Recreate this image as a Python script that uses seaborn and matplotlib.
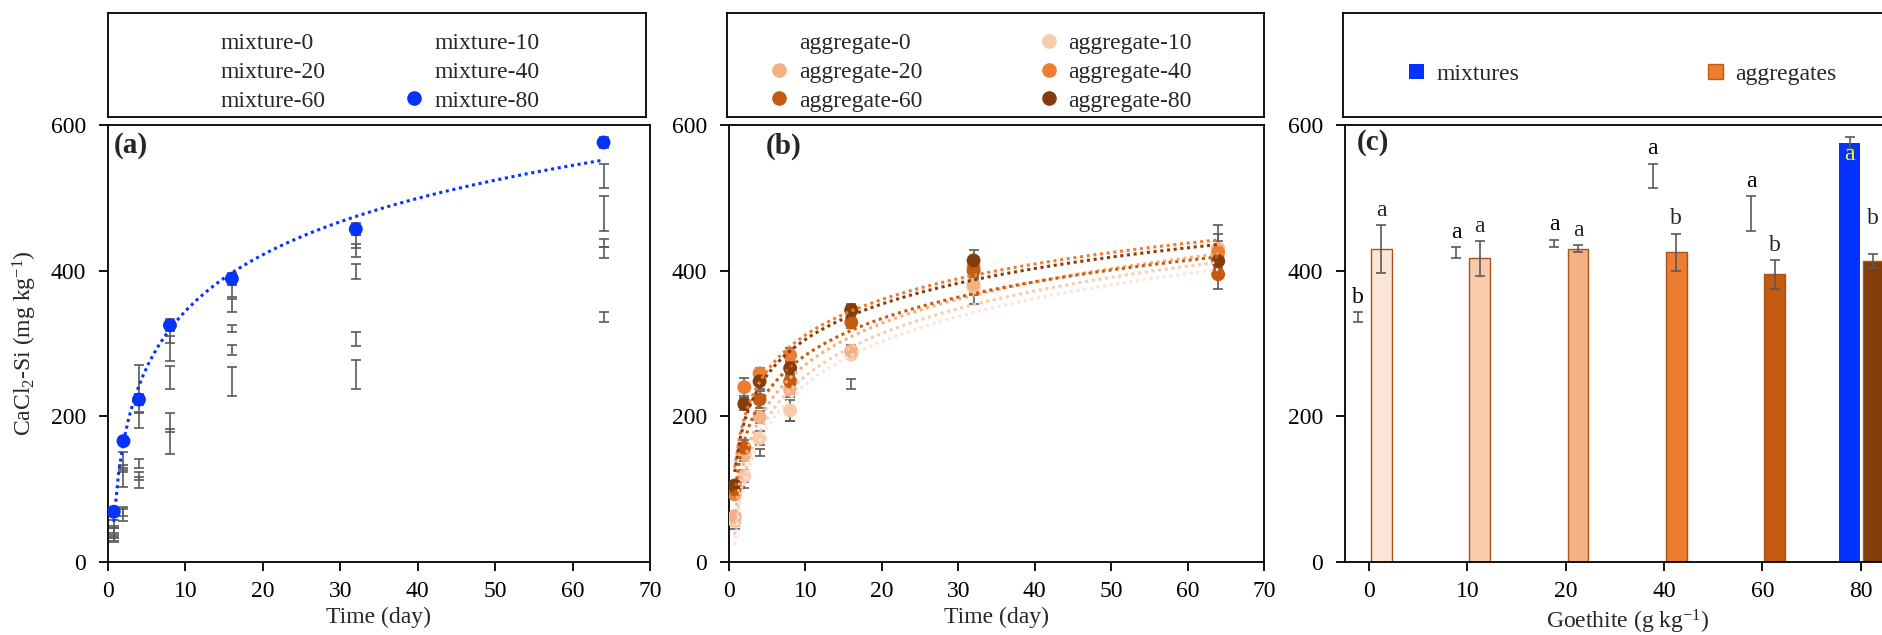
import numpy as np
import matplotlib.pyplot as plt
import matplotlib.lines as mlines
import matplotlib.patches as mpatches
import seaborn as sns

# --- DATA ---
DAYS = [0.75, 2, 4, 8, 16, 32, 64]

MIX_NAMES = ['mixture-0', 'mixture-10', 'mixture-20', 'mixture-40', 'mixture-60', 'mixture-80']
MIX_0 = [30, 66, 109, 165, 248, 257, 336]
MIX_10 = [33, 68, 118, 192, 291, 306, 425]
MIX_20 = [40, 115, 135, 253, 321, 399, 438]
MIX_40 = [45, 128, 195, 293, 352, 440, 530]
MIX_60 = [52, 140, 238, 316, 372, 428, 478]
MIX_80 = [69, 166, 223, 325, 389, 457, 576]
MIX_0_ERR = [3, 10, 8, 17, 20, 20, 7]
MIX_10_ERR = [4, 5, 6, 13, 7, 10, 8]
MIX_20_ERR = [6, 12, 6, 16, 5, 10, 5]
MIX_40_ERR = [5, 5, 11, 17, 9, 9, 17]
MIX_60_ERR = [6, 11, 33, 15, 8, 9, 24]
MIX_80_ERR = [4, 6, 8, 8, 8, 8, 8]

AGG_NAMES = ['aggregate-0', 'aggregate-10', 'aggregate-20', 'aggregate-40', 'aggregate-60', 'aggregate-80']
AGG_0 = [50, 110, 150, 201, 244, 362, 430]
AGG_10 = [56, 118, 170, 208, 285, 377, 417]
AGG_20 = [63, 147, 199, 236, 290, 381, 430]
AGG_40 = [93, 240, 259, 284, 345, 405, 425]
AGG_60 = [100, 157, 223, 248, 329, 400, 395]
AGG_80 = [105, 217, 248, 266, 346, 414, 413]
AGG_0_ERR = [5, 8, 5, 7, 7, 8, 33]
AGG_10_ERR = [6, 8, 10, 14, 6, 10, 24]
AGG_20_ERR = [5, 8, 8, 10, 8, 12, 5]
AGG_40_ERR = [5, 12, 8, 10, 8, 10, 25]
AGG_60_ERR = [5, 10, 12, 10, 8, 10, 20]
AGG_80_ERR = [6, 8, 10, 10, 8, 14, 10]

# panel (c): day-64 values
GOETHITE = ['0', '10', '20', '40', '60', '80']
BAR_MIX = [336, 425, 437, 530, 478, 575]
BAR_MIX_ERR = [7, 8, 5, 17, 24, 8]
BAR_AGG = [430, 417, 430, 425, 395, 413]
BAR_AGG_ERR = [33, 24, 5, 25, 20, 10]
MIX_LETTERS = ['b', 'a', 'a', 'a', 'a', 'a']
AGG_LETTERS = ['a', 'a', 'a', 'b', 'b', 'b']
MIX_LETTER_Y = [363, 452, 463, 568, 523, 559]
AGG_LETTER_Y = [483, 460, 455, 472, 434, 472]

# --- STYLE ---
BLUE = '#0433FF'
AGG_COLORS = ['#FBE5D6', '#F8CBAD', '#F4B183', '#ED7D31', '#C55A11', '#843C0C']
ERR_COLOR = '#5A5A5A'
FS = 17

sns.set_theme(style='ticks')
plt.rcParams['font.family'] = ['Liberation Serif', 'DejaVu Serif']
plt.rcParams['mathtext.fontset'] = 'custom'
plt.rcParams['mathtext.rm'] = 'Liberation Serif'
plt.rcParams['mathtext.it'] = 'Liberation Serif:italic'
plt.rcParams['mathtext.bf'] = 'Liberation Serif:bold'

W, H = 1883, 635
fig = plt.figure(figsize=(W / 100, H / 100), dpi=100)


def px_axes(left, top, width, height):
    return fig.add_axes([left / W, (H - top - height) / H, width / W, height / H])


def style_axes(ax):
    for sp in ax.spines.values():
        sp.set_visible(True)
        sp.set_color('black')
        sp.set_linewidth(1.3)
    ax.tick_params(direction='out', length=6.5, width=1.3, labelsize=FS, colors='black')
    ax.tick_params(axis='x', pad=7)
    ax.tick_params(axis='y', pad=9.5)
    ax.set_ylim(0, 600)
    ax.set_yticks([0, 200, 400, 600])


def legend_box(left, width):
    lax = px_axes(left, 13, width, 104)
    lax.set_xticks([])
    lax.set_yticks([])
    for sp in lax.spines.values():
        sp.set_visible(True)
        sp.set_color('black')
        sp.set_linewidth(1.3)
    return lax


def errbars(ax, x, y, e):
    ax.errorbar(x, y, yerr=e, fmt='none', ecolor=ERR_COLOR, elinewidth=1.2,
                capsize=3.5, capthick=1.2, zorder=2)


def fit_line(ax, y, color):
    sns.regplot(x=np.array(DAYS), y=np.array(y), logx=True, scatter=False, ci=None, ax=ax,
                color=color, line_kws=dict(ls=(0, (1, 1.2)), lw=2.2, zorder=4))


# ---------------- (a) mixtures over time ----------------
ax_a = px_axes(108, 125, 542, 437)
mix_series = [MIX_0, MIX_10, MIX_20, MIX_40, MIX_60]
mix_errs = [MIX_0_ERR, MIX_10_ERR, MIX_20_ERR, MIX_40_ERR, MIX_60_ERR]
for vals, err in zip(mix_series, mix_errs):
    errbars(ax_a, DAYS, vals, err)
errbars(ax_a, DAYS, MIX_80, MIX_80_ERR)
sns.scatterplot(x=DAYS, y=MIX_80, color=BLUE, s=100, edgecolor='none', ax=ax_a, zorder=3)
fit_line(ax_a, MIX_80, BLUE)
style_axes(ax_a)
ax_a.set_xlim(0, 70)
ax_a.set_xticks(range(0, 71, 10))
ax_a.set_xlabel('Time (day)', fontsize=FS, labelpad=4)
ax_a.set_ylabel(r'CaCl$_2$-Si (mg kg$^{-1}$)', fontsize=FS, labelpad=8)
ax_a.text(0.01, 0.952, '(a)', transform=ax_a.transAxes, fontsize=21, fontweight='bold',
          ha='left', va='center')

lax_a = legend_box(108, 538)
empty = mlines.Line2D([], [], ls='none', marker='none')
blue_dot = mlines.Line2D([], [], ls='none', marker='o', ms=9.5, color=BLUE)
h_a = [empty, empty, empty, empty, empty, blue_dot]
order = [0, 2, 4, 1, 3, 5]
lax_a.legend([h_a[i] for i in order], [MIX_NAMES[i] for i in order], ncol=2,
             loc='center left', bbox_to_anchor=(0.1556, 0.43), frameon=False,
             fontsize=FS, handlelength=0.7, handletextpad=0.5, columnspacing=3.42,
             labelspacing=0.3, borderpad=0, borderaxespad=0)

# ---------------- (b) aggregates over time ----------------
ax_b = px_axes(729, 125, 535, 437)
agg_series = [AGG_0, AGG_10, AGG_20, AGG_40, AGG_60, AGG_80]
agg_errs = [AGG_0_ERR, AGG_10_ERR, AGG_20_ERR, AGG_40_ERR, AGG_60_ERR, AGG_80_ERR]
for vals, err in zip(agg_series, agg_errs):
    errbars(ax_b, DAYS, vals, err)
for vals, col in zip(agg_series[1:], AGG_COLORS[1:]):
    sns.scatterplot(x=DAYS, y=vals, color=col, s=100, edgecolor='none', ax=ax_b, zorder=3)
for vals, col in zip(agg_series, AGG_COLORS):
    fit_line(ax_b, vals, col)
style_axes(ax_b)
ax_b.set_xlim(0, 70)
ax_b.set_xticks(range(0, 71, 10))
ax_b.set_xlabel('Time (day)', fontsize=FS, labelpad=4)
ax_b.set_ylabel('')
ax_b.text(0.069, 0.952, '(b)', transform=ax_b.transAxes, fontsize=21, fontweight='bold',
          ha='left', va='center')

lax_b = legend_box(727, 537)
h_b = [empty] + [mlines.Line2D([], [], ls='none', marker='o', ms=9.5, color=c)
                 for c in AGG_COLORS[1:]]
lax_b.legend([h_b[i] for i in order], [AGG_NAMES[i] for i in order], ncol=2,
             loc='center left', bbox_to_anchor=(0.0814, 0.43), frameon=False,
             fontsize=FS, handlelength=0.7, handletextpad=0.5, columnspacing=4.99,
             labelspacing=0.3, borderpad=0, borderaxespad=0)

# ---------------- (c) day-64 bars ----------------
ax_c = px_axes(1345, 125, 565, 437)
pos = np.arange(len(GOETHITE))
bw = 0.21
mix_x = pos - 0.115
agg_x = pos + 0.125
mix_face = ['none'] * (len(GOETHITE) - 1) + [BLUE]
ax_c.bar(mix_x, BAR_MIX, width=bw, color=mix_face, edgecolor='none', zorder=2)
ax_c.bar(agg_x, BAR_AGG, width=bw, color=AGG_COLORS, edgecolor='#A8521F', linewidth=1.0, zorder=2)
errbars(ax_c, mix_x, BAR_MIX, BAR_MIX_ERR)
errbars(ax_c, agg_x, BAR_AGG, BAR_AGG_ERR)
for i, (lt, ly) in enumerate(zip(MIX_LETTERS, MIX_LETTER_Y)):
    ax_c.text(mix_x[i], ly, lt, fontsize=FS, ha='center', va='center',
              color='#FFFF00' if i == len(GOETHITE) - 1 else 'black', zorder=5)
for i, (lt, ly) in enumerate(zip(AGG_LETTERS, AGG_LETTER_Y)):
    ax_c.text(agg_x[i], ly, lt, fontsize=FS, ha='center', va='center', zorder=5)
style_axes(ax_c)
ax_c.set_xlim(-0.244, 5.5)
ax_c.set_xticks(pos)
ax_c.set_xticklabels(GOETHITE)
ax_c.set_xlabel(r'Goethite (g kg$^{-1}$)', fontsize=FS, labelpad=4)
ax_c.text(0.021, 0.96, '(c)', transform=ax_c.transAxes, fontsize=21, fontweight='bold',
          ha='left', va='center')

lax_c = legend_box(1343, 567)
h_c = [mpatches.Patch(facecolor=BLUE, edgecolor='none'),
       mpatches.Patch(facecolor='#ED7D31', edgecolor='#C55A11', linewidth=1.0)]
lax_c.legend(h_c, ['mixtures', 'aggregates'], ncol=2, loc='center left',
             bbox_to_anchor=((1409 - 1343) / 567, 0.413), frameon=False, fontsize=FS,
             handlelength=0.65, handleheight=0.6, handletextpad=0.5, columnspacing=8.0,
             borderpad=0, borderaxespad=0)

fig.savefig('out.png', dpi=100)
